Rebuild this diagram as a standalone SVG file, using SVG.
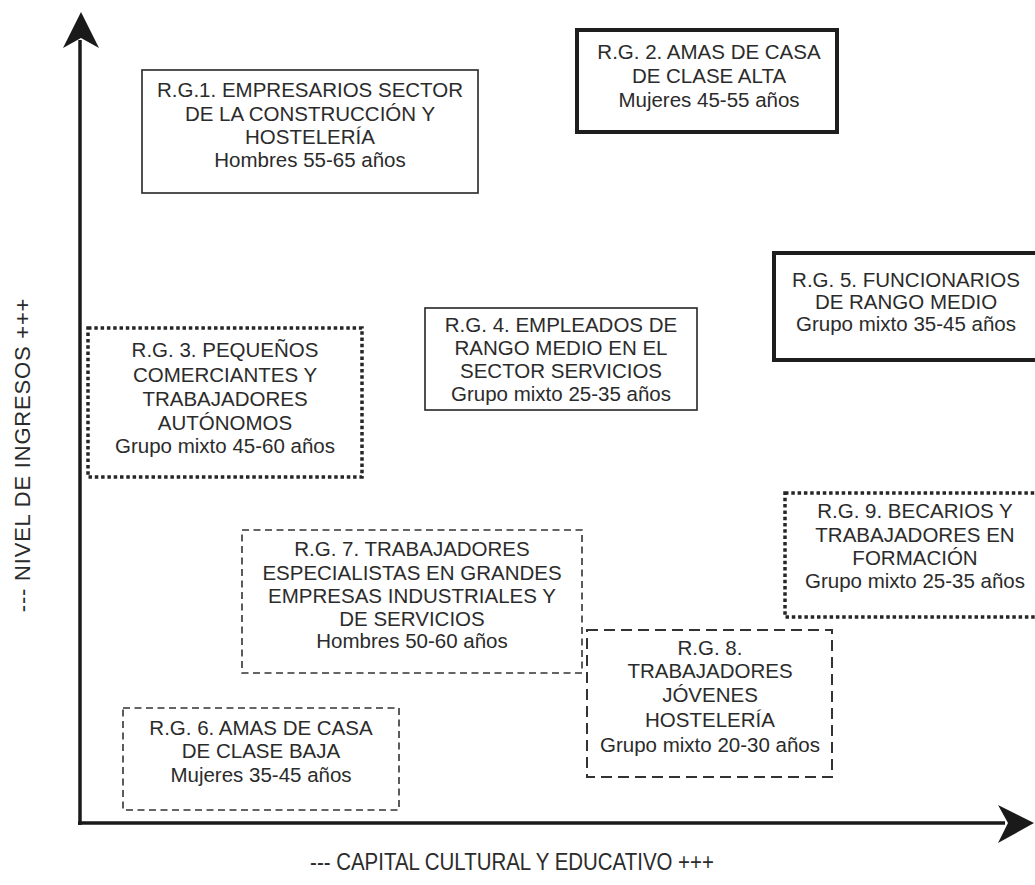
<svg xmlns="http://www.w3.org/2000/svg" width="1035" height="885" viewBox="0 0 1035 885">
<style>
.t{font-family:"Liberation Sans",Arial,sans-serif;font-size:20.5px;fill:#2b2b2b;text-anchor:middle}
.ax{font-family:"Liberation Sans",Arial,sans-serif;font-size:22px;fill:#2b2b2b;text-anchor:middle}
.solid{fill:#fff;stroke:#262626;stroke-width:1.6}
.thick{fill:#fff;stroke:#1e1e1e;stroke-width:4}
.dot{fill:#fff;stroke:#262626;stroke-width:3.5;stroke-dasharray:3.5 2.8}
.dash{fill:#fff;stroke:#333;stroke-width:1.6;stroke-dasharray:7 4.5}
.dash2{fill:#fff;stroke:#333;stroke-width:2;stroke-dasharray:11 6}
.axis{stroke:#1a1a1a;stroke-width:3.5;fill:none}
</style>
<rect width="1035" height="885" fill="#fff"/>
<g id="axes">
<line class="axis" x1="80" y1="825" x2="80" y2="40"/>
<polygon points="81,12 99,48 81,38 63,48" fill="#1a1a1a"/>
<line class="axis" x1="78" y1="823" x2="1005" y2="823"/>
<polygon points="1034,823 998,805 1008,823 998,843" fill="#1a1a1a"/>
<text class="ax" x="0" y="0" letter-spacing="0.8" transform="translate(30,455) rotate(-90)">--- NIVEL DE INGRESOS +++</text>
<text class="ax" x="0" y="0" transform="translate(512,870) scale(0.93,1.12)">---  CAPITAL CULTURAL Y EDUCATIVO  +++</text>
</g>
<g id="rg1">
<rect class="solid" x="142" y="70" width="336" height="123"/>
<text class="t" x="310" y="97">R.G.1. EMPRESARIOS SECTOR</text>
<text class="t" x="310" y="121">DE LA CONSTRUCCIÓN Y</text>
<text class="t" x="310" y="144">HOSTELERÍA</text>
<text class="t" x="310" y="167">Hombres 55-65 años</text>
</g>
<g id="rg2">
<rect class="thick" x="577" y="30" width="260" height="102"/>
<text class="t" x="709" y="59">R.G. 2. AMAS DE CASA</text>
<text class="t" x="709" y="83">DE CLASE ALTA</text>
<text class="t" x="709" y="107">Mujeres 45-55 años</text>
</g>
<g id="rg5">
<rect class="thick" x="774" y="253" width="265" height="107"/>
<text class="t" x="906" y="287">R.G. 5. FUNCIONARIOS</text>
<text class="t" x="906" y="309">DE RANGO MEDIO</text>
<text class="t" x="906" y="331">Grupo mixto 35-45 años</text>
</g>
<g id="rg3">
<rect class="dot" x="88" y="328" width="274" height="149"/>
<text class="t" x="225" y="357">R.G. 3. PEQUEÑOS</text>
<text class="t" x="225" y="382">COMERCIANTES Y</text>
<text class="t" x="225" y="406">TRABAJADORES</text>
<text class="t" x="225" y="430">AUTÓNOMOS</text>
<text class="t" x="225" y="453">Grupo mixto 45-60 años</text>
</g>
<g id="rg4">
<rect class="solid" x="425" y="308" width="272" height="102"/>
<text class="t" x="561" y="332">R.G. 4. EMPLEADOS DE</text>
<text class="t" x="561" y="355">RANGO MEDIO EN EL</text>
<text class="t" x="561" y="378">SECTOR SERVICIOS</text>
<text class="t" x="561" y="401">Grupo mixto 25-35 años</text>
</g>
<g id="rg9">
<rect class="dot" x="785" y="493" width="255" height="124"/>
<text class="t" x="915" y="518">R.G. 9. BECARIOS Y</text>
<text class="t" x="915" y="542">TRABAJADORES EN</text>
<text class="t" x="915" y="565">FORMACIÓN</text>
<text class="t" x="915" y="588">Grupo mixto 25-35 años</text>
</g>
<g id="rg7">
<rect class="dash" x="242" y="530" width="340" height="143"/>
<text class="t" x="412" y="556">R.G. 7. TRABAJADORES</text>
<text class="t" x="412" y="580">ESPECIALISTAS EN GRANDES</text>
<text class="t" x="412" y="603">EMPRESAS INDUSTRIALES Y</text>
<text class="t" x="412" y="626">DE SERVICIOS</text>
<text class="t" x="412" y="648">Hombres 50-60 años</text>
</g>
<g id="rg8">
<rect class="dash2" x="587" y="630" width="245" height="147"/>
<text class="t" x="710" y="655">R.G. 8.</text>
<text class="t" x="710" y="678">TRABAJADORES</text>
<text class="t" x="710" y="702">JÓVENES</text>
<text class="t" x="710" y="727">HOSTELERÍA</text>
<text class="t" x="710" y="752">Grupo mixto 20-30 años</text>
</g>
<g id="rg6">
<rect class="dash" x="123" y="708" width="276" height="102"/>
<text class="t" x="261" y="735">R.G. 6. AMAS DE CASA</text>
<text class="t" x="261" y="758">DE CLASE BAJA</text>
<text class="t" x="261" y="782">Mujeres 35-45 años</text>
</g>
</svg>
